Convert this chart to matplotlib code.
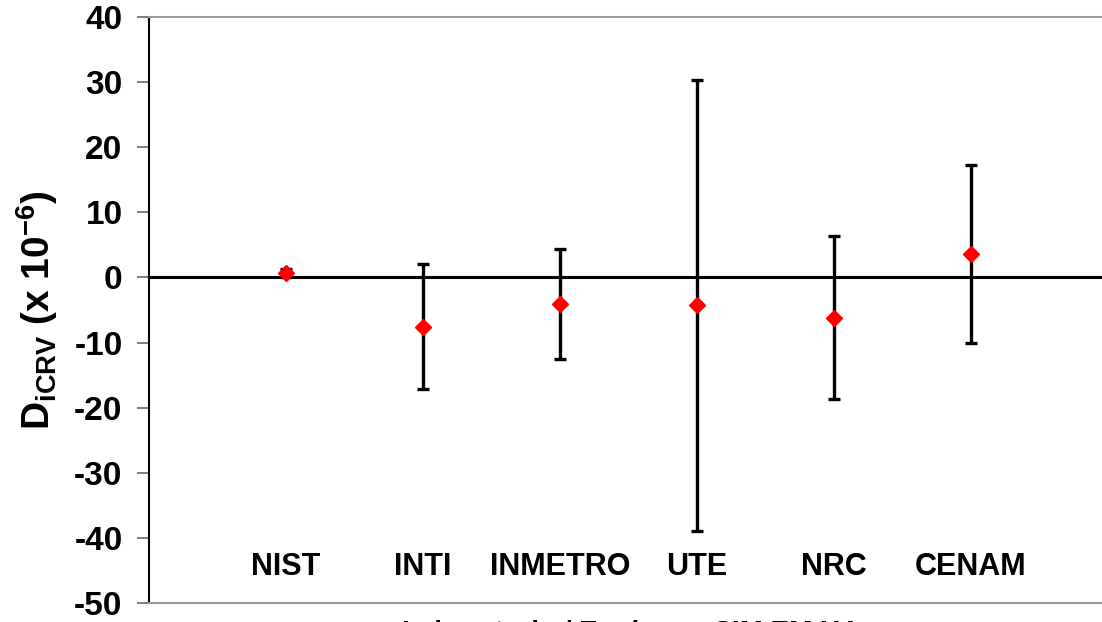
import matplotlib.pyplot as plt

plt.rcParams['font.family'] = ['Liberation Sans', 'DejaVu Sans']
plt.rcParams['font.weight'] = 'bold'
plt.rcParams['mathtext.default'] = 'regular'
plt.rcParams['axes.unicode_minus'] = False

labs = ['NIST', 'INTI', 'INMETRO', 'UTE', 'NRC', 'CENAM']
pos = [1, 2, 3, 4, 5, 6]
d_icrv = [0.7, -7.6, -4.1, -4.3, -6.2, 3.6]
u_icrv = [0.6, 9.6, 8.5, 34.6, 12.5, 13.7]

fig = plt.figure(figsize=(11.02, 6.22), dpi=100)
ax = fig.add_axes([149 / 1102, 1 - 603 / 622, 959 / 1102, 586 / 622])

# linha do zero
ax.axhline(0, color='black', lw=2.2, zorder=1)

ax.errorbar(pos, d_icrv, yerr=u_icrv, fmt='D', color='red', ms=8,
            ecolor='black', elinewidth=2.4, capsize=4, capthick=2.4, zorder=3)

# nomes dos laboratorios dentro do grafico
for x, t in zip(pos, labs):
    ax.text(x, -44.4, t, ha='center', va='center', fontsize=22, fontweight='bold')

ax.set_xlim(0, 7)
ax.set_ylim(-50, 40)
ax.set_yticks(range(-50, 41, 10))
ax.set_xticks([])

ax.spines['left'].set_color('black')
ax.spines['left'].set_linewidth(1.5)
for s in ['top', 'bottom', 'right']:
    ax.spines[s].set_color('#999999')
    ax.spines[s].set_linewidth(1.5)

ax.tick_params(axis='y', direction='out', length=9, width=1.2, color='#666666',
               labelsize=24, pad=10)

ax.set_ylabel(r'D$_{\mathregular{iCRV}}$ (x 10$^{\mathregular{-6}}$)', fontsize=28,
              fontweight='bold', labelpad=10)
# titulo do eixo x cortado na borda inferior, como no original
ax.set_xlabel('Laboratorio / Equipo  -  SIM.EM.K4', fontsize=20, fontweight='bold',
              labelpad=12)

plt.savefig('out.png', dpi=100)
